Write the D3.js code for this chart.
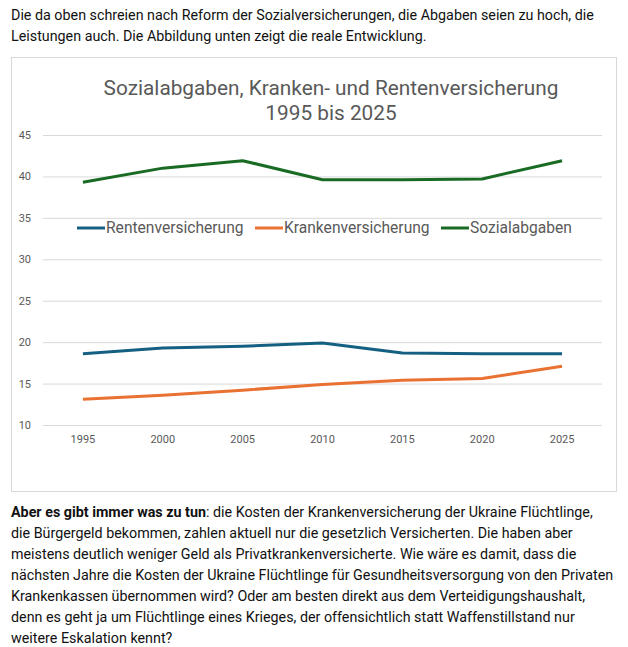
<!DOCTYPE html>
<html>
<head>
<meta charset="utf-8">
<script src="https://cdn.jsdelivr.net/npm/d3@7"></script>
<style>
  body { margin: 0; background: #fff; font-family: Roboto, "Noto Sans", sans-serif; }
  .txt { position: absolute; left: 11px; font-size: 14.3px; line-height: 21px; color: #111; white-space: nowrap; }
  svg { position: absolute; left: 0; top: 0; }
  svg text { font-family: Roboto, "Noto Sans", sans-serif; fill: #595959; }
</style>
</head>
<body>
<div class="txt" style="top:5px">Die da oben schreien nach Reform der Sozialversicherungen, die Abgaben seien zu hoch, die<br>Leistungen auch. Die Abbildung unten zeigt die reale Entwicklung.</div>
<svg id="chart" width="628" height="500"></svg>
<div class="txt" style="top:502px"><b>Aber es gibt immer was zu tun</b>: die Kosten der Krankenversicherung der Ukraine Flüchtlinge,<br>die Bürgergeld bekommen, zahlen aktuell nur die gesetzlich Versicherten. Die haben aber<br>meistens deutlich weniger Geld als Privatkrankenversicherte. Wie wäre es damit, dass die<br>nächsten Jahre die Kosten der Ukraine Flüchtlinge für Gesundheitsversorgung von den Privaten<br>Krankenkassen übernommen wird? Oder am besten direkt aus dem Verteidigungshaushalt,<br>denn es geht ja um Flüchtlinge eines Krieges, der offensichtlich statt Waffenstillstand nur<br>weitere Eskalation kennt?</div>
<script>
// Werte
const jahre = ["1995", "2000", "2005", "2010", "2015", "2020", "2025"];
const rente = [18.6, 19.3, 19.5, 19.9, 18.7, 18.6, 18.6];
const kranken = [13.1, 13.6, 14.2, 14.9, 15.4, 15.6, 17.1];
const sozial = [39.3, 41.0, 41.9, 39.6, 39.6, 39.7, 41.9];
const yTicks = [10, 15, 20, 25, 30, 35, 40, 45];

const serien = [
  { name: "Rentenversicherung", werte: rente, farbe: "#156082" },
  { name: "Krankenversicherung", werte: kranken, farbe: "#E97132" },
  { name: "Sozialabgaben", werte: sozial, farbe: "#196B24" }
];

const svg = d3.select("#chart");

// Rahmen
svg.append("rect")
  .attr("x", 11.5).attr("y", 57.5)
  .attr("width", 605).attr("height", 434)
  .attr("fill", "#fff").attr("stroke", "#d9d9d9");

const x = d3.scaleBand().domain(jahre).range([43, 602]);
const y = d3.scaleLinear().domain([10, 45]).range([425, 135]);

// Gitterlinien + y-Achse
const yAxis = svg.append("g")
  .attr("transform", "translate(43,0)")
  .call(d3.axisLeft(y).tickValues(yTicks).tickSize(-559).tickPadding(12));
yAxis.select(".domain").remove();
yAxis.selectAll("line").attr("stroke", "#d9d9d9");
yAxis.selectAll("text").style("font-size", "11px").attr("fill", "#595959");

const xAxis = svg.append("g")
  .attr("transform", "translate(0,425)")
  .call(d3.axisBottom(x).tickSize(0).tickPadding(10));
xAxis.select(".domain").remove();
xAxis.selectAll("text").style("font-size", "11px").attr("fill", "#595959");

// Titel
svg.append("text").attr("x", 331).attr("y", 95)
  .attr("text-anchor", "middle").style("font-size", "20.8px")
  .text("Sozialabgaben, Kranken- und Rentenversicherung");
svg.append("text").attr("x", 331).attr("y", 120)
  .attr("text-anchor", "middle").style("font-size", "20.8px")
  .text("1995 bis 2025");

// Linien
const line = d3.line()
  .x((d, i) => x(jahre[i]) + x.bandwidth() / 2)
  .y(d => y(d));

serien.forEach(s => {
  svg.append("path")
    .datum(s.werte)
    .attr("d", line)
    .attr("fill", "none")
    .attr("stroke", s.farbe)
    .attr("stroke-width", 3)
    .attr("stroke-linejoin", "round");
});

// Legende
const legX = [77, 255, 441];
const leg = svg.append("g");
serien.forEach((s, i) => {
  leg.append("line")
    .attr("x1", legX[i]).attr("x2", legX[i] + 28)
    .attr("y1", 228).attr("y2", 228)
    .attr("stroke", s.farbe).attr("stroke-width", 3);
  leg.append("text")
    .attr("x", legX[i] + 29).attr("y", 233)
    .style("font-size", "15.6px")
    .text(s.name);
});
</script>
</body>
</html>
